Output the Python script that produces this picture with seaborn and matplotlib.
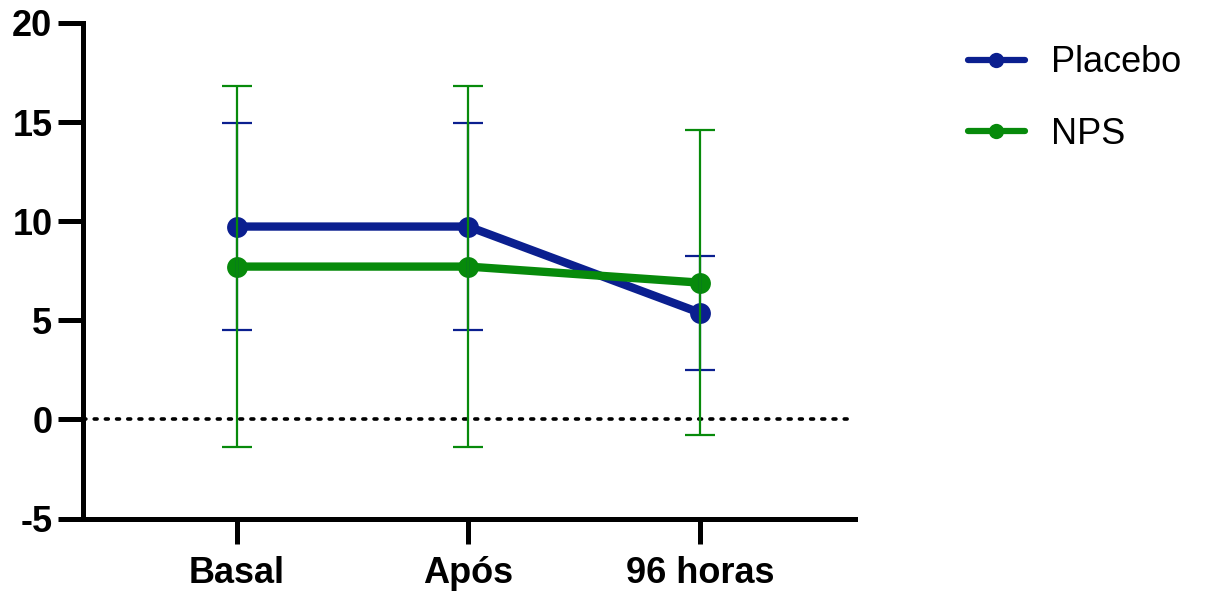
import matplotlib
matplotlib.use("Agg")
import matplotlib.pyplot as plt
from matplotlib.lines import Line2D
import numpy as np
import pandas as pd
import seaborn as sns

# Time points and group summaries (mean ± SD)
timepoints = ["Basal", "Após", "96 horas"]
groups = ["Placebo", "NPS"]
placebo_mean = [9.73, 9.73, 5.38]
placebo_sd = [5.2, 5.2, 2.88]
nps_mean = [7.71, 7.71, 6.9]
nps_sd = [9.12, 9.12, 7.68]
yticks = [-5, 0, 5, 10, 15, 20]

colors = {"Placebo": "#0B1F8F", "NPS": "#078A0B"}

sns.set_theme(style="white")
plt.rcParams["font.family"] = ["Liberation Sans", "DejaVu Sans"]
plt.rcParams["text.color"] = "black"
plt.rcParams["xtick.color"] = "black"
plt.rcParams["ytick.color"] = "black"

df = pd.DataFrame({
    "pos": list(range(len(timepoints))) * 2,
    "mean": placebo_mean + nps_mean,
    "sd": placebo_sd + nps_sd,
    "group": ["Placebo"] * 3 + ["NPS"] * 3,
})

fig = plt.figure(figsize=(12.07, 5.97), dpi=100)
ax = fig.add_axes([83 / 1207, 1 - 518.5 / 597, (855 - 83) / 1207, (518.5 - 23) / 597])

# reference line at zero
ax.axhline(0, color="black", linewidth=2.6, linestyle=(0, (0.8, 2.3)),
           dash_capstyle="round", zorder=1)

sns.lineplot(data=df, x="pos", y="mean", hue="group", hue_order=groups,
             palette=colors, marker="o", markersize=15, markeredgewidth=0,
             linewidth=6, ax=ax, legend=False, zorder=3)

for g in groups:
    sub = df[df["group"] == g]
    ax.errorbar(sub["pos"], sub["mean"], yerr=sub["sd"], fmt="none",
                ecolor=colors[g], elinewidth=1.6, capsize=10.5, capthick=1.6,
                zorder=4 if g == "Placebo" else 5)

ax.set_xlim(-0.665, 2.67)
ax.set_ylim(-5, 20)
ax.set_yticks(yticks)
ax.set_yticklabels([str(t) for t in yticks])
ax.set_xticks(range(len(timepoints)))
ax.set_xticklabels(timepoints)
ax.set_xlabel("")
ax.set_ylabel("")

for side in ["top", "right"]:
    ax.spines[side].set_visible(False)
for side in ["left", "bottom"]:
    ax.spines[side].set_linewidth(3.6)
    ax.spines[side].set_color("black")
    ax.spines[side].set_capstyle("projecting")

ax.tick_params(axis="both", which="major", length=18, width=3.6, color="black",
               labelcolor="black", direction="out", labelsize=26, pad=4,
               bottom=True, left=True)
ax.tick_params(axis="x", pad=9)
for lbl in ax.get_xticklabels() + ax.get_yticklabels():
    lbl.set_fontweight("bold")

handles = [Line2D([0], [0], color=colors[g], linewidth=4.5, marker="o",
                  markersize=11, markeredgewidth=0) for g in groups]
leg = fig.legend(handles, groups, loc="upper left",
                 bbox_to_anchor=(935 / 1207, 1 - 13 / 597),
                 frameon=False, fontsize=26, handlelength=1.6, handletextpad=0.7,
                 labelspacing=1.0)
for t in leg.get_texts():
    t.set_color("black")

fig.savefig("out.png", dpi=100, facecolor="white")
